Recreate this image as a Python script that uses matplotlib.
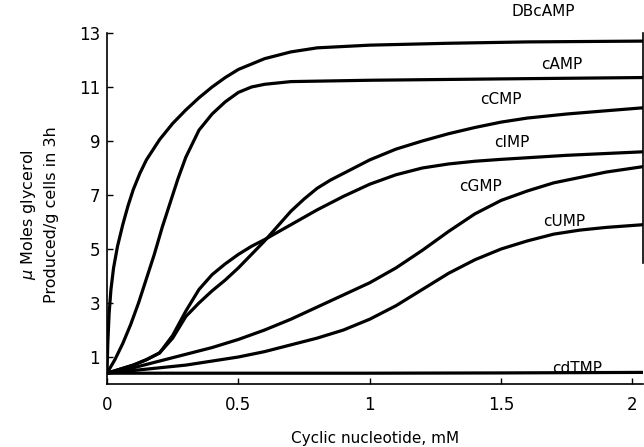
import matplotlib
matplotlib.use("Agg")
import matplotlib.pyplot as plt

plt.rcParams['font.family'] = ['DejaVu Sans']

# ---- data ----
dbcamp_x = [0, 0.003, 0.008, 0.015, 0.025, 0.04, 0.06, 0.08, 0.1, 0.125, 0.15, 0.2, 0.25, 0.3, 0.35,
            0.4, 0.45, 0.5, 0.6, 0.7, 0.8, 1.0, 1.3, 1.6, 2.04]
dbcamp_y = [0.4, 1.5, 2.6, 3.5, 4.3, 5.1, 5.9, 6.6, 7.2, 7.8, 8.3, 9.05, 9.65, 10.15, 10.6,
            11.0, 11.35, 11.65, 12.05, 12.3, 12.45, 12.55, 12.62, 12.67, 12.7]

camp_x = [0, 0.03, 0.06, 0.09, 0.12, 0.15, 0.18, 0.21, 0.24, 0.27, 0.3, 0.35, 0.4, 0.45, 0.5,
          0.55, 0.6, 0.7, 1.0, 1.5, 2.04]
camp_y = [0.4, 0.9, 1.5, 2.2, 3.0, 3.9, 4.8, 5.8, 6.7, 7.6, 8.4, 9.4, 10.0, 10.45, 10.8,
          11.0, 11.1, 11.2, 11.25, 11.3, 11.35]

ccmp_x = [0, 0.05, 0.1, 0.15, 0.2, 0.25, 0.3, 0.35, 0.4, 0.45, 0.5, 0.55, 0.6, 0.65, 0.7, 0.75,
          0.8, 0.85, 0.9, 1.0, 1.1, 1.2, 1.3, 1.4, 1.5, 1.6, 1.75, 1.9, 2.04]
ccmp_y = [0.4, 0.55, 0.7, 0.9, 1.15, 1.7, 2.5, 3.0, 3.45, 3.85, 4.3, 4.8, 5.3, 5.85, 6.4, 6.85,
          7.25, 7.55, 7.8, 8.3, 8.7, 9.0, 9.27, 9.5, 9.7, 9.85, 10.0, 10.12, 10.23]

cimp_x = [0, 0.05, 0.1, 0.15, 0.2, 0.25, 0.3, 0.35, 0.4, 0.45, 0.5, 0.55, 0.6, 0.7, 0.8, 0.9,
          1.0, 1.1, 1.2, 1.3, 1.4, 1.5, 1.75, 2.04]
cimp_y = [0.4, 0.55, 0.7, 0.9, 1.15, 1.8, 2.7, 3.5, 4.05, 4.45, 4.8, 5.1, 5.35, 5.9, 6.45, 6.95,
          7.4, 7.75, 8.0, 8.15, 8.25, 8.32, 8.47, 8.6]

cgmp_x = [0, 0.1, 0.2, 0.3, 0.4, 0.5, 0.6, 0.7, 0.8, 0.9, 1.0, 1.1, 1.2, 1.3, 1.4, 1.5, 1.6,
          1.7, 1.8, 1.9, 2.04]
cgmp_y = [0.4, 0.6, 0.85, 1.1, 1.35, 1.65, 2.0, 2.4, 2.85, 3.3, 3.75, 4.3, 4.95, 5.65, 6.3, 6.8, 7.15,
          7.45, 7.65, 7.85, 8.05]

cump_x = [0, 0.1, 0.2, 0.3, 0.4, 0.5, 0.6, 0.7, 0.8, 0.9, 1.0, 1.1, 1.2, 1.3, 1.4, 1.5, 1.6,
          1.7, 1.8, 1.9, 2.04]
cump_y = [0.4, 0.5, 0.6, 0.7, 0.85, 1.0, 1.2, 1.45, 1.7, 2.0, 2.4, 2.9, 3.5, 4.1, 4.6, 5.0, 5.3,
          5.55, 5.7, 5.8, 5.9]

cdtmp_x = [0, 0.5, 1.0, 1.5, 2.04]
cdtmp_y = [0.4, 0.4, 0.4, 0.41, 0.43]

labels = ["DBcAMP", "cAMP", "cCMP", "cIMP", "cGMP", "cUMP", "cdTMP"]
label_pos = [(1.66, 13.78), (1.73, 11.85), (1.50, 10.55), (1.54, 8.93),
             (1.42, 7.33), (1.74, 6.0), (1.79, 0.56)]

x_ticks = [0, 0.5, 1, 1.5, 2]
x_ticklabels = ["0", "0.5", "1", "1.5", "2"]
y_ticks = [1, 3, 5, 7, 9, 11, 13]

fig = plt.figure(figsize=(6.44, 4.47), dpi=100)
ax = fig.add_axes([107/644, 1 - 384/447, (643 - 107)/644, (384 - 33)/447])

series = [(dbcamp_x, dbcamp_y), (camp_x, camp_y), (ccmp_x, ccmp_y), (cimp_x, cimp_y),
          (cgmp_x, cgmp_y), (cump_x, cump_y), (cdtmp_x, cdtmp_y)]
for xs, ys in series:
    ax.plot(xs, ys, color='black', lw=2.3, solid_capstyle='round', solid_joinstyle='round')

for lab, (lx, ly) in zip(labels, label_pos):
    ax.text(lx, ly, lab, ha='center', va='center', fontsize=11, clip_on=False)

ax.set_xlim(0, 2.04)
ax.set_ylim(0, 13)
ax.set_xticks(x_ticks)
ax.set_xticklabels(x_ticklabels)
ax.set_yticks(y_ticks)
ax.tick_params(direction='in', length=4, width=1, labelsize=12, colors='black')
ax.tick_params(axis='x', pad=9)
ax.tick_params(axis='y', pad=5)

ax.spines['top'].set_visible(False)
ax.spines['right'].set_bounds(4.5, 13)
for s in ['left', 'bottom', 'right']:
    ax.spines[s].set_linewidth(1.2)

ax.set_xlabel("Cyclic nucleotide, mM", fontsize=11, labelpad=12)
fig.text(28/644, 1 - 215/447, r"$\mu$ Moles glycerol", rotation=90, ha='center', va='center', fontsize=11.5)
fig.text(52/644, 1 - 215/447, "Produced/g cells in 3h", rotation=90, ha='center', va='center', fontsize=11.5)

fig.savefig("out.png", dpi=100)
